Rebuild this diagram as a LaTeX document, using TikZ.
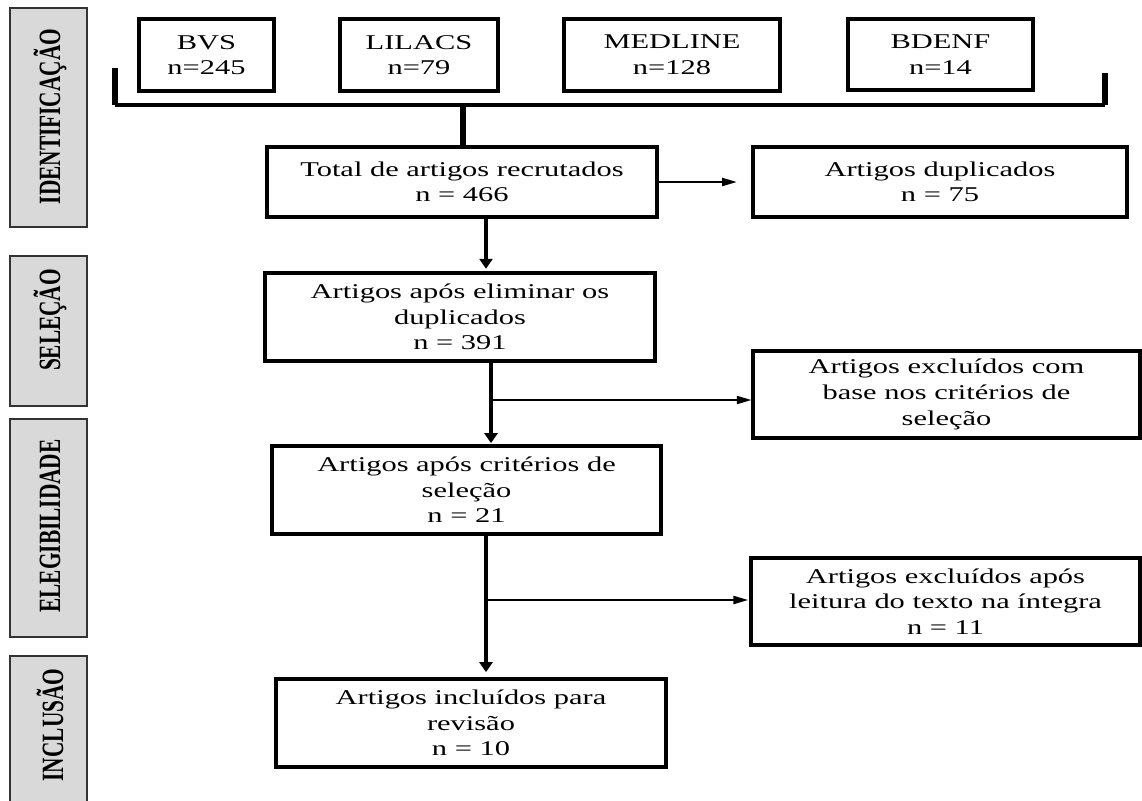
\documentclass[tikz,border=0pt]{standalone}
\usepackage{fontspec}
\setmainfont{Liberation Serif}[FakeStretch=1.45]
\newfontfamily\lblfont{Liberation Serif}
\usetikzlibrary{arrows.meta}
\definecolor{sidegray}{HTML}{D9D9D9}
\tikzset{
  px/.style={x=0.75pt,y=-0.75pt},
  flowbox/.style={draw=black, line width=2.3pt, fill=white, align=center, inner sep=0pt,
    font=\fontsize{15.75}{19.2}\selectfont},
  sidebox/.style={draw=black!80, line width=0.8pt, fill=sidegray, inner sep=0pt},
  sidelabel/.style={rotate=90, inner sep=0pt, font=\lblfont\bfseries\fontsize{16}{16}\selectfont},
  vline/.style={line width=3pt},
  hline/.style={line width=1.5pt},
  varrow/.style={vline, -{Triangle[length=7.5pt,width=9.75pt]}},
  harrow/.style={hline, -{Triangle[length=11pt,width=6pt]}},
  bracket/.style={line width=2.4pt},
  bracketv/.style={line width=3.8pt},
}
\begin{document}
\begin{tikzpicture}[px]
\useasboundingbox (0,0) rectangle (1142,800);
% side boxes
\node[sidebox, minimum width=77*0.75pt, minimum height=219*0.75pt] (sid) at (48.5,117.5) {};
\node[sidebox, minimum width=77*0.75pt, minimum height=150*0.75pt] (ssel) at (48.5,331) {};
\node[sidebox, minimum width=77*0.75pt, minimum height=218*0.75pt] (sele) at (48.5,528) {};
\node[sidebox, minimum width=77*0.75pt, minimum height=146*0.75pt] (sinc) at (48.5,729) {};
\node[sidelabel] (lid) at (50,116.5) {\scalebox{1}[1.45]{IDENTIFICAÇÃO}};
\node[sidelabel] (lsel) at (50,320) {\scalebox{1}[1.45]{SELEÇÃO}};
\node[sidelabel] (lele) at (50,526) {\scalebox{1}[1.45]{ELEGIBILIDADE}};
\node[sidelabel] (linc) at (50,725) {\scalebox{1}[1.45]{INCLUSÃO}};
% database boxes
\node[flowbox, minimum width=135*0.75pt, minimum height=72*0.75pt] (bvs) at (206.5,55) {BVS\\n=245};
\node[flowbox, minimum width=158*0.75pt, minimum height=72*0.75pt] (lil) at (419,55) {LILACS\\n=79};
\node[flowbox, minimum width=216*0.75pt, minimum height=72*0.75pt] (med) at (672,55) {MEDLINE\\n=128};
\node[flowbox, minimum width=185*0.75pt, minimum height=71*0.75pt] (bde) at (940.5,54.5) {BDENF\\n=14};
% bracket
\coordinate (bl) at (115,68);
\coordinate (blc) at (115,105);
\coordinate (br) at (1105,73);
\coordinate (brc) at (1105,105);
\coordinate (stem) at (463,105);
% main boxes
\node[flowbox, minimum width=390*0.75pt, minimum height=70*0.75pt] (tot) at (462,182) {Total de artigos recrutados\\n = 466};
\node[flowbox, minimum width=374*0.75pt, minimum height=70*0.75pt] (dup) at (940,182) {Artigos duplicados\\n = 75};
\node[flowbox, minimum width=390*0.75pt, minimum height=88*0.75pt] (elim) at (460,317) {Artigos após eliminar os\\duplicados\\n = 391};
\node[flowbox, minimum width=387*0.75pt, minimum height=87*0.75pt] (exc1) at (946.5,394.5) {Artigos excluídos com\\base nos critérios de\\seleção};
\node[flowbox, minimum width=389*0.75pt, minimum height=88*0.75pt] (crit) at (466.5,490) {Artigos após critérios de\\seleção\\n = 21};
\node[flowbox, minimum width=389*0.75pt, minimum height=87*0.75pt] (exc2) at (945.5,601.5) {Artigos excluídos após\\leitura do texto na íntegra\\n = 11};
\node[flowbox, minimum width=390*0.75pt, minimum height=88*0.75pt] (inc) at (471,723) {Artigos incluídos para\\revisão\\n = 10};
% connectors
\draw[bracketv] (bl) -- (blc);
\draw[bracketv] (br) -- (brc);
\draw[bracket] (blc) -- (brc);
\draw[line width=4pt] (stem) -- (tot.north -| stem);
\draw[harrow, shorten >=11pt] (tot.east) -- (dup.west);
\coordinate (c1) at (486,0);
\draw[varrow, shorten >=2pt] (tot.south -| c1) -- (elim.north -| c1);
\coordinate (c2) at (491,400);
\draw[varrow, shorten >=1pt] (elim.south -| c2) -- (crit.north -| c2);
\draw[harrow] (c2) -- (c2 -| exc1.west);
\coordinate (c3) at (486,600);
\draw[varrow, shorten >=4pt] (crit.south -| c3) -- (inc.north -| c3);
\draw[harrow, shorten >=1pt] (c3) -- (c3 -| exc2.west);
\end{tikzpicture}
\end{document}
